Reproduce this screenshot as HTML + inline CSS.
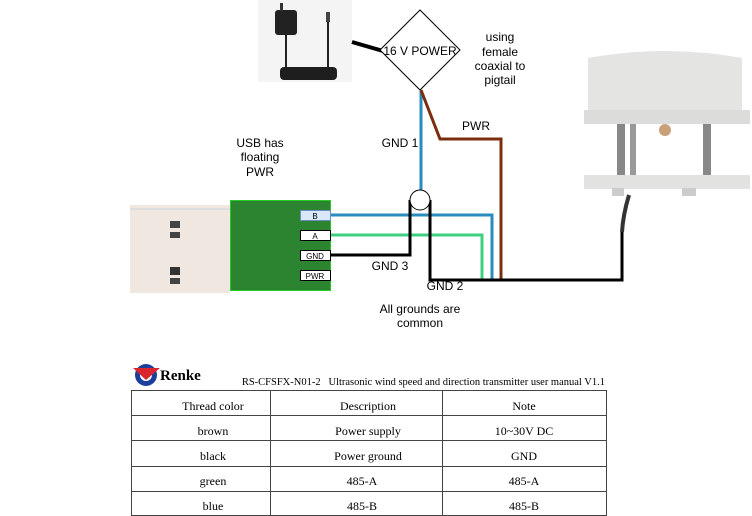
<!DOCTYPE html>
<html><head><meta charset="utf-8"><style>
body{margin:0;width:752px;height:516px;background:#fff;overflow:hidden;position:relative;font-family:"Liberation Sans",sans-serif}
svg{position:absolute;left:0;top:0}
</style></head><body>
<svg width="752" height="516">
<g>
<rect x="258" y="0" width="94" height="82" fill="#f4f4f4"/>
<rect x="275" y="10" width="22" height="25" rx="3" fill="#222"/>
<rect x="280" y="3" width="3" height="8" fill="#333"/>
<line x1="286" y1="35" x2="286" y2="70" stroke="#222" stroke-width="2"/>
<line x1="328" y1="20" x2="328" y2="68" stroke="#222" stroke-width="2"/>
<rect x="326" y="12" width="4" height="10" fill="#444"/>
<rect x="280" y="67" width="57" height="13" rx="4" fill="#1e1e1e"/>
</g>
<line x1="352" y1="42" x2="383" y2="51" stroke="#000" stroke-width="4"/>
<polygon points="420,10 460,50 420,90 380,50" fill="#fff" stroke="#000" stroke-width="1"/>
<text x="420" y="55" font-size="12" text-anchor="middle">16 V POWER</text>
<g font-size="12" text-anchor="middle">
<text x="500" y="41">using</text><text x="500" y="56">female</text><text x="500" y="70">coaxial to</text><text x="500" y="84">pigtail</text></g>
<g>
<rect x="617" y="118" width="8" height="62" fill="#888"/>
<rect x="630" y="118" width="6" height="62" fill="#999"/>
<rect x="703" y="118" width="8" height="62" fill="#888"/>
<path d="M588 58 Q665 44 742 58 L742 112 L588 112Z" fill="#e4e4e2"/>
<rect x="584" y="110" width="166" height="14" fill="#dcdcda"/>
<circle cx="665" cy="130" r="6" fill="#c9a078"/>
<rect x="584" y="175" width="166" height="14" fill="#e2e2e0"/>
<rect x="612" y="188" width="12" height="8" fill="#ccc"/>
<rect x="682" y="188" width="14" height="8" fill="#ccc"/>
<path d="M629 195 Q623 215 622 232" stroke="#333" stroke-width="4" fill="none"/>
</g>
<g>
<rect x="130" y="205" width="100" height="88" fill="#efe7e0"/>
<rect x="130" y="208" width="100" height="2" fill="#ddd"/>
<rect x="170" y="221" width="10" height="7" fill="#444"/><rect x="170" y="232" width="10" height="6" fill="#444"/>
<rect x="170" y="267" width="10" height="8" fill="#333"/><rect x="170" y="278" width="10" height="6" fill="#444"/>
</g>
<rect x="230.5" y="200.5" width="100" height="90" fill="#2c8430" stroke="#22cc22"/>
<g font-size="8" text-anchor="middle">
<rect x="300.5" y="210.5" width="30" height="10" fill="#dae8fc" stroke="#6c8ebf"/><text x="315" y="219">B</text>
<rect x="300.5" y="230.5" width="30" height="10" fill="#fff" stroke="#000"/><text x="315" y="239">A</text>
<rect x="300.5" y="250.5" width="30" height="10" fill="#fff" stroke="#000"/><text x="315" y="259">GND</text>
<rect x="300.5" y="270.5" width="30" height="10" fill="#fff" stroke="#000"/><text x="315" y="279">PWR</text>
</g>
<polyline points="421,90 421,190" fill="none" stroke="#2a8bbf" stroke-width="3"/>
<polyline points="421,90 440,139 501,139 501,281" fill="none" stroke="#7a2e0e" stroke-width="3"/>
<polyline points="331,215 492,215 492,281" fill="none" stroke="#2a8bbf" stroke-width="3"/>
<polyline points="331,235 482,235 482,281" fill="none" stroke="#3ecf7f" stroke-width="3"/>
<polyline points="331,255 410,255 410,200" fill="none" stroke="#000" stroke-width="3"/>
<polyline points="430,200 430,280 622,280 622,232" fill="none" stroke="#000" stroke-width="3"/>
<circle cx="420" cy="200" r="10" fill="#fff" stroke="#000"/>
<g font-size="12" text-anchor="middle">
<text x="476" y="130">PWR</text>
<text x="400" y="147">GND 1</text>
<text x="390" y="270">GND 3</text>
<text x="445" y="290">GND 2</text>
<text x="420" y="313">All grounds are</text>
<text x="420" y="327">common</text>
<text x="260" y="147">USB has</text>
<text x="260" y="161">floating</text>
<text x="260" y="176">PWR</text>
</g>
<g>
<circle cx="146" cy="375" r="11" fill="#1d3f9c"/>
<circle cx="146" cy="375" r="6" fill="#fff"/>
<path d="M133 368 L160 368 L146 380Z" fill="#d9262c"/>
<text x="160" y="380" font-family="Liberation Serif,serif" font-weight="bold" font-size="15">Renke</text>
</g>
<text x="605" y="385" font-family="Liberation Serif,serif" font-size="10.5" text-anchor="end">RS-CFSFX-N01-2 &#160; Ultrasonic wind speed and direction transmitter user manual V1.1</text>
<g stroke="#444" fill="none">
<rect x="131.5" y="390.5" width="475" height="125"/>
<line x1="270.5" y1="390" x2="270.5" y2="516"/><line x1="442.5" y1="390" x2="442.5" y2="516"/>
<line x1="131" y1="415.5" x2="607" y2="415.5"/><line x1="131" y1="440.5" x2="607" y2="440.5"/>
<line x1="131" y1="466.5" x2="607" y2="466.5"/><line x1="131" y1="491.5" x2="607" y2="491.5"/>
</g>
<g font-family="Liberation Serif,serif" font-size="12" text-anchor="middle">
<text x="213" y="410">Thread color</text><text x="368" y="410">Description</text><text x="524" y="410">Note</text>
<text x="213" y="435">brown</text><text x="368" y="435">Power supply</text><text x="524" y="435">10~30V DC</text>
<text x="213" y="460">black</text><text x="368" y="460">Power ground</text><text x="524" y="460">GND</text>
<text x="213" y="485">green</text><text x="362" y="485">485-A</text><text x="524" y="485">485-A</text>
<text x="213" y="510">blue</text><text x="362" y="510">485-B</text><text x="524" y="510">485-B</text>
</g>
</svg>
</body></html>
